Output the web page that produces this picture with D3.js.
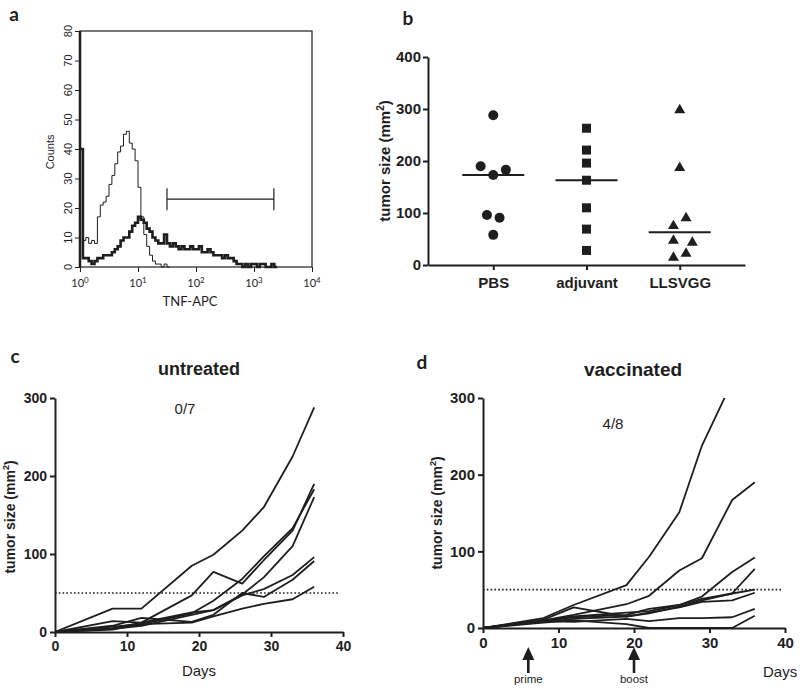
<!DOCTYPE html>
<html>
<head>
<meta charset="utf-8">
<script src="https://cdn.jsdelivr.net/npm/d3@7"></script>
<style>
  body { margin: 0; background: #fff; }
  text { fill: #1e1e1e; }
</style>
</head>
<body>
<svg id="fig" width="800" height="694"></svg>
<script>
// ---- panel a: TNF-APC histogram (counts per 0.05 log10 channel bin)
const binWidth = 0.05;
const isoCounts = [40, 9, 10, 8, 9, 8, 17, 21, 22, 24, 28, 31, 35, 39, 41, 45, 46, 42, 40, 36,
  27, 17, 11, 7, 4, 2, 1, 1, 0, 1, 0];
const tnfCounts = [40, 3, 3, 2, 1, 2, 3, 3, 4, 4, 4, 5, 6, 7, 9, 10, 10, 12, 14, 15,
  17, 16, 15, 13, 12, 10, 9, 8, 8, 11, 8, 7, 8, 7, 6, 7, 6, 6, 7, 6,
  6, 7, 5, 5, 6, 5, 4, 4, 4, 3, 4, 3, 3, 2, 1, 1, 0, 1, 0, 1,
  1, 0, 1, 1, 0, 0, 1, 0];
const gateRange = [31.6, 2200];
const gateLevel = 23;
const countTicks = [0, 10, 20, 30, 40, 50, 60, 70, 80];

// ---- panel b: tumor size per group
const groups = ["PBS", "adjuvant", "LLSVGG"];
const pbs = [288, 190, 183, 173, 96, 91, 58];
const adjuvant = [263, 221, 196, 163, 110, 69, 28];
const llsvgg = [300, 189, 92, 77, 49, 45, 24, 16];
// horizontal dodge slot for overlapping points
const pbsSlot = [0, -2, 2, 0, -1, 1, 0];
const adjuvantSlot = [0, 0, 0, 0, 0, 0, 0];
const llsvggSlot = [0, 0, 1, -1, -1, 2, 1, -1];
const sizeTicks = [0, 100, 200, 300, 400];

// ---- panels c, d: growth curves
const days = [0, 8, 12, 19, 22, 26, 29, 33, 36];
const untreated = [
  [0, 30, 30, 85, 99, 130, 160, 225, 288],
  [0, 5, 12, 47, 77, 62, 92, 130, 190],
  [0, 7, 10, 24, 40, 68, 97, 133, 183],
  [0, 4, 8, 22, 28, 48, 70, 110, 173],
  [0, 14, 12, 25, 28, 47, 55, 73, 96],
  [0, 8, 18, 13, 22, 50, 45, 67, 91],
  [0, 3, 10, 12, 20, 30, 36, 42, 58]
];
const vaccinated = [
  [0, 13, 30, 56, 93, 151, 238, 321, null],
  [0, 10, 17, 31, 42, 75, 91, 167, 190],
  [0, 9, 15, 20, 22, 30, 41, 73, 92],
  [0, 10, 14, 17, 25, 30, 38, 45, 77],
  [0, 11, 27, 15, 19, 28, 36, 45, 50],
  [0, 8, 12, 15, 20, 27, 34, 36, 46],
  [0, 9, 8, 12, 9, 13, 13, 14, 25],
  [0, 7, 10, 5, 0, 0, 0, 0, 16]
];
const cutoff = 50;
const injections = [{day: 6, label: "prime"}, {day: 20, label: "boost"}];

const ink = "#1e1e1e";
const svg = d3.select("#fig");

function letter(x, y, t) {
  svg.append("text").attr("x", x).attr("y", y)
    .attr("font-family", "Lato, 'Open Sans', sans-serif")
    .attr("font-weight", "bold").attr("font-size", 19)
    .attr("text-anchor", "middle").text(t);
}

// ================= panel a =================
(function () {
  const x = d3.scaleLog().domain([1, 1e4]).range([80, 312]);
  const y = d3.scaleLinear().domain([0, 80]).range([267, 31]);
  const g = svg.append("g");

  // frame
  g.append("rect").attr("x", 80).attr("y", 31).attr("width", 232).attr("height", 236)
    .attr("fill", "none").attr("stroke", ink).attr("stroke-width", 1.2);
  g.append("line").attr("x1", 80).attr("x2", 80).attr("y1", 31).attr("y2", 267)
    .attr("stroke", ink).attr("stroke-width", 2.5);

  // y ticks
  const ya = g.append("g").attr("transform", "translate(80,0)");
  ya.call(d3.axisLeft(y).tickValues(d3.range(0, 81, 2)).tickSize(3).tickFormat(""));
  ya.call(d3.axisLeft(y).tickValues(countTicks).tickSize(5).tickFormat(""));
  ya.selectAll(".domain").remove();
  ya.selectAll("line").attr("stroke", ink);
  countTicks.forEach(v => {
    g.append("text").attr("transform", `translate(68,${y(v)}) rotate(-90)`)
      .attr("text-anchor", "middle").attr("dy", "0.35em")
      .attr("font-family", "'Liberation Sans', Arial, sans-serif").attr("font-size", 11)
      .text(v);
  });
  g.append("text").attr("transform", `translate(50,${y(39)}) rotate(-90)`)
    .attr("text-anchor", "middle").attr("dy", "0.35em")
    .attr("font-family", "'Liberation Sans', Arial, sans-serif").attr("font-size", 11)
    .text("Counts");

  // x ticks
  const xa = g.append("g").attr("transform", "translate(0,267)");
  const minor = [];
  for (let d = 1; d < 1e4; d *= 10) for (let k = 2; k < 10; k++) minor.push(d * k);
  xa.call(d3.axisBottom(x).tickValues(minor).tickSize(3).tickFormat(""));
  xa.call(d3.axisBottom(x).tickValues([1, 10, 100, 1000, 10000]).tickSize(5).tickFormat(""));
  xa.selectAll(".domain").remove();
  xa.selectAll("line").attr("stroke", ink);
  [0, 1, 2, 3, 4].forEach(p => {
    const t = g.append("text").attr("x", x(Math.pow(10, p))).attr("y", 287)
      .attr("text-anchor", "middle")
      .attr("font-family", "Lato, 'Open Sans', sans-serif").attr("font-size", 11);
    t.append("tspan").text("10");
    t.append("tspan").attr("dy", -4).attr("font-size", 8).text(p);
  });
  g.append("text").attr("x", 190).attr("y", 306).attr("text-anchor", "middle")
    .attr("font-family", "Lato, 'Open Sans', sans-serif").attr("font-size", 13)
    .text("TNF-APC");

  const step = counts => {
    const pts = counts.map((c, i) => [i * binWidth, c]);
    pts.push([counts.length * binWidth, counts[counts.length - 1]]);
    return d3.line().x(d => x(Math.pow(10, d[0]))).y(d => y(d[1])).curve(d3.curveStepAfter)(pts);
  };
  g.append("path").attr("d", step(isoCounts)).attr("fill", "none")
    .attr("stroke", ink).attr("stroke-width", 1);
  g.append("path").attr("d", step(tnfCounts)).attr("fill", "none")
    .attr("stroke", ink).attr("stroke-width", 2.6);

  // gate
  g.append("line").attr("x1", x(gateRange[0])).attr("x2", x(gateRange[1]))
    .attr("y1", y(gateLevel)).attr("y2", y(gateLevel)).attr("stroke", ink).attr("stroke-width", 1.2);
  gateRange.forEach(v => g.append("line").attr("x1", x(v)).attr("x2", x(v))
    .attr("y1", y(gateLevel) - 11).attr("y2", y(gateLevel) + 11)
    .attr("stroke", ink).attr("stroke-width", 1.2));

  letter(14, 21, "a");
})();

// ================= panel b =================
(function () {
  const x = d3.scalePoint().domain(groups).range([428, 745]).padding(0.7);
  const y = d3.scaleLinear().domain([0, 400]).range([265, 57]);
  const g = svg.append("g");
  const font = "'Liberation Sans', Arial, sans-serif";

  const ya = g.append("g").attr("transform", "translate(428,0)")
    .call(d3.axisLeft(y).tickValues(sizeTicks).tickSize(5).tickSizeOuter(0));
  const xa = g.append("g").attr("transform", "translate(0,265)")
    .call(d3.axisBottom(x).tickSize(5).tickSizeOuter(0));
  [ya, xa].forEach(a => {
    a.selectAll("path, line").attr("stroke", ink).attr("stroke-width", 2);
    a.selectAll("text").attr("font-family", font).attr("font-weight", "bold")
      .attr("font-size", 15).attr("fill", ink);
  });
  ya.selectAll("text").attr("x", -7);
  xa.selectAll("text").attr("y", 12);

  const t = g.append("text").attr("transform", `translate(390,161) rotate(-90)`)
    .attr("text-anchor", "middle").attr("font-family", font)
    .attr("font-weight", "bold").attr("font-size", 15);
  t.append("tspan").text("tumor size (mm");
  t.append("tspan").attr("dy", -6).attr("font-size", 10).text("2");
  t.append("tspan").attr("dy", 6).text(")");

  const dodge = 6.3;
  const sets = [
    {name: "PBS", vals: pbs, slot: pbsSlot, shape: "circle"},
    {name: "adjuvant", vals: adjuvant, slot: adjuvantSlot, shape: "square"},
    {name: "LLSVGG", vals: llsvgg, slot: llsvggSlot, shape: "triangle"}
  ];
  sets.forEach(s => {
    const cx = x(s.name);
    s.vals.forEach((v, i) => {
      const px = cx + s.slot[i] * dodge, py = y(v);
      if (s.shape === "circle") {
        g.append("circle").attr("cx", px).attr("cy", py).attr("r", 5).attr("fill", ink);
      } else if (s.shape === "square") {
        g.append("rect").attr("x", px - 4.5).attr("y", py - 4.5).attr("width", 9).attr("height", 9).attr("fill", ink);
      } else {
        g.append("path").attr("transform", `translate(${px},${py + 1})`)
          .attr("d", d3.symbol(d3.symbolTriangle, 52)()).attr("fill", ink);
      }
    });
    const med = d3.median(s.vals);
    g.append("line").attr("x1", cx - 31).attr("x2", cx + 31)
      .attr("y1", y(med)).attr("y2", y(med)).attr("stroke", ink).attr("stroke-width", 2);
  });

  letter(408, 25, "b");
})();

// ================= panels c, d =================
function growth(opt) {
  const x = d3.scaleLinear().domain([0, 40]).range(opt.xr);
  const y = d3.scaleLinear().domain([0, 300]).range(opt.yr);
  const g = svg.append("g");
  const font = "'Liberation Sans', Arial, sans-serif";

  const ya = g.append("g").attr("transform", `translate(${opt.xr[0]},0)`);
  ya.call(d3.axisLeft(y).tickValues([50, 150, 250]).tickSize(3).tickFormat(""));
  ya.call(d3.axisLeft(y).tickValues([0, 100, 200, 300]).tickSize(5).tickSizeOuter(0));
  const xa = g.append("g").attr("transform", `translate(0,${opt.yr[0]})`);
  xa.call(d3.axisBottom(x).tickValues([5, 15, 25, 35]).tickSize(3).tickFormat(""));
  xa.call(d3.axisBottom(x).tickValues([0, 10, 20, 30, 40]).tickSize(5).tickSizeOuter(0));
  [ya, xa].forEach(a => {
    a.selectAll("path, line").attr("stroke", ink).attr("stroke-width", 2);
    a.selectAll("text").attr("font-family", font).attr("font-weight", "bold")
      .attr("font-size", opt.fs).attr("fill", ink);
  });
  ya.selectAll("text").attr("x", -8);
  xa.selectAll("text").attr("y", 9);

  const t = g.append("text").attr("transform", `translate(${opt.ylx},${opt.yly}) rotate(-90)`)
    .attr("text-anchor", "middle").attr("font-family", font)
    .attr("font-weight", "bold").attr("font-size", 14);
  t.append("tspan").text("tumor size (mm");
  t.append("tspan").attr("dy", -6).attr("font-size", 9).text("2");
  t.append("tspan").attr("dy", 6).text(")");

  g.append("text").attr("x", opt.titleX).attr("y", opt.titleY).attr("text-anchor", "middle")
    .attr("font-family", font).attr("font-weight", "bold").attr("font-size", opt.tfs)
    .text(opt.title);
  g.append("text").attr("x", opt.ratioX).attr("y", opt.ratioY).attr("text-anchor", "middle")
    .attr("font-family", font).attr("font-size", 15).text(opt.ratio);
  g.append("text").attr("x", opt.daysX).attr("y", opt.daysY).attr("text-anchor", opt.daysAnchor)
    .attr("font-family", font).attr("font-size", 15).text("Days");

  g.append("line").attr("x1", x(0)).attr("x2", x(opt.dotEnd))
    .attr("y1", y(cutoff)).attr("y2", y(cutoff))
    .attr("stroke", ink).attr("stroke-width", 1.6).attr("stroke-dasharray", "1.6,2.2");

  const clipId = "clip" + opt.title;
  svg.append("clipPath").attr("id", clipId).append("rect")
    .attr("x", opt.xr[0]).attr("y", opt.yr[1]).attr("width", opt.xr[1] - opt.xr[0])
    .attr("height", opt.yr[0] - opt.yr[1] + 2);
  const line = d3.line().defined(d => d[1] !== null).x(d => x(d[0])).y(d => y(d[1]));
  g.append("g").attr("clip-path", `url(#${clipId})`).selectAll("path")
    .data(opt.series).join("path")
    .attr("d", s => line(s.map((v, i) => [days[i], v])))
    .attr("fill", "none").attr("stroke", ink).attr("stroke-width", 1.8)
    .attr("stroke-linejoin", "round");

  if (opt.arrows) {
    opt.arrows.forEach(a => {
      const ax = x(a.day);
      g.append("line").attr("x1", ax).attr("x2", ax).attr("y1", 657).attr("y2", 673)
        .attr("stroke", ink).attr("stroke-width", 2.6);
      g.append("path").attr("d", `M${ax},647 L${ax - 6},660 L${ax + 6},660 Z`).attr("fill", ink);
      g.append("text").attr("x", ax).attr("y", 683).attr("text-anchor", "middle")
        .attr("font-family", font).attr("font-size", 11.5).text(a.label);
    });
  }
}

growth({
  xr: [55, 343], yr: [632, 398], fs: 14, tfs: 18,
  title: "untreated", titleX: 199, titleY: 375,
  ratio: "0/7", ratioX: 185, ratioY: 414,
  daysX: 199, daysY: 676, daysAnchor: "middle",
  ylx: 15, yly: 517, dotEnd: 39.3, series: untreated
});
growth({
  xr: [483, 785], yr: [628, 398], fs: 15, tfs: 19,
  title: "vaccinated", titleX: 633, titleY: 376,
  ratio: "4/8", ratioX: 613, ratioY: 429,
  daysX: 763, daysY: 677, daysAnchor: "start",
  ylx: 442, yly: 513, dotEnd: 39.6, series: vaccinated, arrows: injections
});
letter(15, 363, "c");
letter(422, 369, "d");
</script>
</body>
</html>
